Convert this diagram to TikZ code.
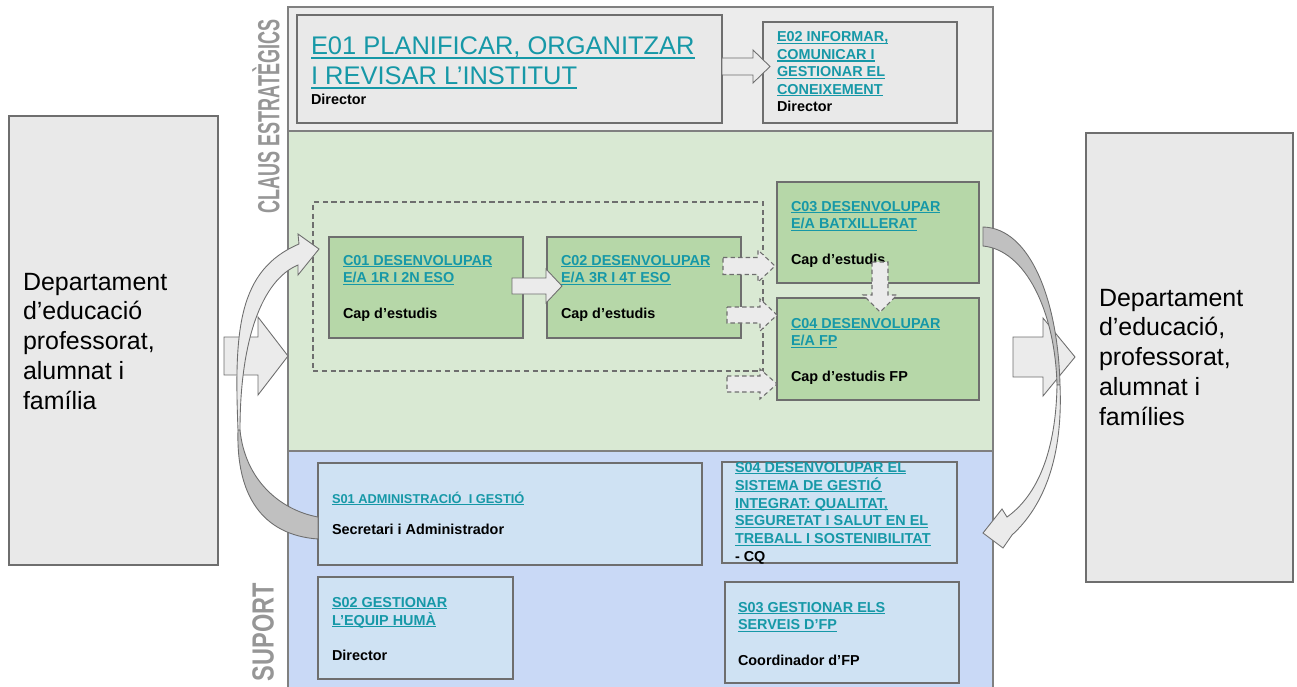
\documentclass[tikz,border=0pt]{standalone}
\usepackage{fontspec}
\setmainfont{Liberation Sans}
\usepackage{graphicx}
\definecolor{bandgray}{RGB}{236,236,236}
\definecolor{boxgray}{RGB}{233,233,233}
\definecolor{bandgreen}{RGB}{217,233,211}
\definecolor{boxgreen}{RGB}{182,215,168}
\definecolor{bandblue}{RGB}{201,217,246}
\definecolor{boxblue}{RGB}{207,226,243}
\definecolor{edgec}{RGB}{110,110,110}
\definecolor{framec}{RGB}{128,128,128}
\definecolor{tc}{RGB}{22,152,167}
\definecolor{arrowfill}{RGB}{235,235,235}
\definecolor{ribbondark}{RGB}{192,192,192}
\definecolor{labgray}{RGB}{150,150,150}
\newcommand{\tl}[1]{\begin{tabular}[t]{@{}l@{}}#1\end{tabular}}
\newcommand{\ttl}[1]{{\color{tc}\setbox0\hbox{#1}\rlap{\rule[-0.15em]{\wd0}{0.075em}}\box0}}
\newcommand{\bx}[6]{\node[#6, anchor=north west, minimum width={(#4-#2)*0.02cm}, minimum height={(#5-#3)*0.02cm}] (#1) at (#2,#3) {};}
\newcommand{\barrowR}[7][]{\draw[blockarrow,#1] (#2,{#5-#6}) -- (#3,{#5-#6}) -- (#3,{#5-#7}) -- (#4,#5) -- (#3,{#5+#7}) -- (#3,{#5+#6}) -- (#2,{#5+#6}) -- cycle;}
\begin{document}
\begin{tikzpicture}[x=0.02cm,y=-0.02cm,
  every node/.style={inner sep=0pt, outer sep=0pt},
  band/.style={draw=framec, line width=0.9pt},
  sidebox/.style={draw=edgec, fill=boxgray, line width=0.7pt},
  ebox/.style={draw=edgec, fill=boxgray, line width=0.8pt},
  cbox/.style={draw=edgec, fill=boxgreen, line width=0.8pt},
  sbox/.style={draw=edgec, fill=boxblue, line width=0.8pt},
  dbox/.style={draw=edgec, dash pattern=on 3pt off 2pt, line width=0.6pt},
  blockarrow/.style={draw=edgec, fill=arrowfill, line width=0.5pt, line join=miter},
  dasharrow/.style={dash pattern=on 2.5pt off 1.8pt, line width=0.6pt},
  ribbon/.style={draw=edgec, line width=0.5pt},
  txs/.style={anchor=base west, font=\fontsize{8.2}{10.2}\selectfont\bfseries},
  txb/.style={anchor=base west, font=\fontsize{14.5}{17}\selectfont},
  txside/.style={anchor=base west, font=\fontsize{14.2}{17}\selectfont},
  lab/.style={rotate=90, text=labgray}
]
\useasboundingbox (0,0) rectangle (1297,686);
\clip (0,0) rectangle (1297,686);

% bands
\bx{topband}{288}{7}{993}{131}{band, fill=bandgray}
\bx{greenband}{288}{131}{993}{451}{band, fill=bandgreen}
\bx{blueband}{288}{451}{993}{692}{band, fill=bandblue}

% side boxes
\bx{lbox}{9}{116}{218}{565}{sidebox}
\bx{rbox}{1086}{133}{1293}{582}{sidebox}
\node[txside] (ltext) at (23,290) {\tl{Departament\\d’educació\\professorat,\\alumnat i\\família}};
\node[txside] (rtext) at (1099,306) {\tl{Departament\\d’educació,\\professorat,\\alumnat i\\famílies}};

% rotated labels
\node[lab] (claus) at (266,116.5) {\scalebox{0.59}[1]{\fontsize{17.4}{17.4}\selectfont\bfseries CLAUS ESTRATÈGICS}};
\node[lab] (suport) at (263,632) {\scalebox{0.77}[1]{\fontsize{17.4}{17.4}\selectfont\bfseries SUPORT}};

% strategic boxes
\bx{e01}{297}{15}{722}{123}{ebox}
\bx{e02}{763}{22}{957}{123}{ebox}
\node[txb] (e01t) at (311,55) {\tl{\ttl{E01 PLANIFICAR, ORGANITZAR}\\\ttl{I REVISAR L’INSTITUT}}};
\node[txs] (e01d) at (311,105) {Director};
\node[txs, font=\fontsize{8.2}{9.9}\selectfont\bfseries] (e02t) at (777,42) {\tl{\ttl{E02 INFORMAR,}\\\ttl{COMUNICAR I}\\\ttl{GESTIONAR EL}\\\ttl{CONEIXEMENT}\\Director}};

% key processes
\bx{dashrect}{313}{202}{763}{371}{dbox}
\bx{c01}{329}{237}{523}{338}{cbox}
\bx{c02}{547}{237}{741}{338}{cbox}
\bx{c03}{777}{182}{979}{283}{cbox}
\bx{c04}{777}{298}{979}{400}{cbox}
\node[txs] (c01t) at (343,265) {\tl{\ttl{C01 DESENVOLUPAR}\\\ttl{E/A 1R I 2N ESO}\\ \\Cap d’estudis}};
\node[txs] (c02t) at (561,265) {\tl{\ttl{C02 DESENVOLUPAR}\\\ttl{E/A 3R I 4T ESO}\\ \\Cap d’estudis}};
\node[txs] (c03t) at (791,211) {\tl{\ttl{C03 DESENVOLUPAR}\\\ttl{E/A BATXILLERAT}\\ \\Cap d’estudis}};
\node[txs] (c04t) at (791,328) {\tl{\ttl{C04 DESENVOLUPAR}\\\ttl{E/A FP}\\ \\Cap d’estudis FP}};

% support boxes
\bx{s01}{318}{463}{702}{565}{sbox}
\bx{s04}{722}{462}{957}{563}{sbox}
\bx{s02}{318}{577}{513}{679}{sbox}
\bx{s03}{725}{582}{959}{683}{sbox}
\node[txs, font=\fontsize{7.3}{9}\selectfont\bfseries] (s01t) at (332,503) {\ttl{S01 ADMINISTRACIÓ\ \ I GESTIÓ}};
\node[txs] (s01d) at (332,534) {Secretari i Administrador};
\node[txs] (s04t) at (735,472) {\tl{\ttl{S04 DESENVOLUPAR EL}\\\ttl{SISTEMA DE GESTIÓ}\\\ttl{INTEGRAT: QUALITAT,}\\\ttl{SEGURETAT I SALUT EN EL}\\\ttl{TREBALL I SOSTENIBILITAT}\\- CQ}};
\node[txs] (s02t) at (332,607) {\tl{\ttl{S02 GESTIONAR}\\\ttl{L’EQUIP HUMÀ}\\ \\Director}};
\node[txs] (s03t) at (738,612) {\tl{\ttl{S03 GESTIONAR ELS}\\\ttl{SERVEIS D’FP}\\ \\Coordinador d’FP}};

% block arrows
\barrowR{722}{753}{770}{66.5}{8.5}{16.5}
\barrowR{512}{546}{562}{286}{8}{17}
\barrowR[dasharrow]{723}{758}{775}{266}{8.5}{16}
\barrowR[dasharrow]{727}{760}{777}{315}{8}{16}
\barrowR[dasharrow]{727}{760}{777}{384}{8}{15}
\draw[blockarrow, dasharrow] (872,262) -- (888,262) -- (888,295) -- (897,295) -- (880,312) -- (863,295) -- (872,295) -- cycle;
\barrowR{224}{258}{288}{356}{19}{39}
\barrowR{1013}{1043}{1075}{357}{20}{39}

% left curved ribbon
\draw[ribbon, fill=ribbondark] (238,430) .. controls (236,495) and (262,535) .. (318,539)
  -- (318,517) .. controls (280,510) and (245,480) .. (240,430) -- cycle;
\draw[ribbon, fill=arrowfill] (238,430) .. controls (234,330) and (238,270) .. (299,244)
  -- (298,234) -- (319,249) -- (298,275) -- (298,265)
  .. controls (262,280) and (240,340) .. (240,430) -- cycle;

% right curved ribbon
\draw[ribbon, fill=ribbondark] (983,227) .. controls (1030,228) and (1058,300) .. (1060,385)
  -- (1057,385) .. controls (1055,310) and (1025,250) .. (983,246) -- cycle;
\draw[ribbon, fill=arrowfill] (1060,385) .. controls (1063,455) and (1045,505) .. (1012,535)
  -- (1003,548) -- (983,533) -- (1002,509) -- (1007,517)
  .. controls (1038,495) and (1056,450) .. (1057,385) -- cycle;
\end{tikzpicture}
\end{document}
